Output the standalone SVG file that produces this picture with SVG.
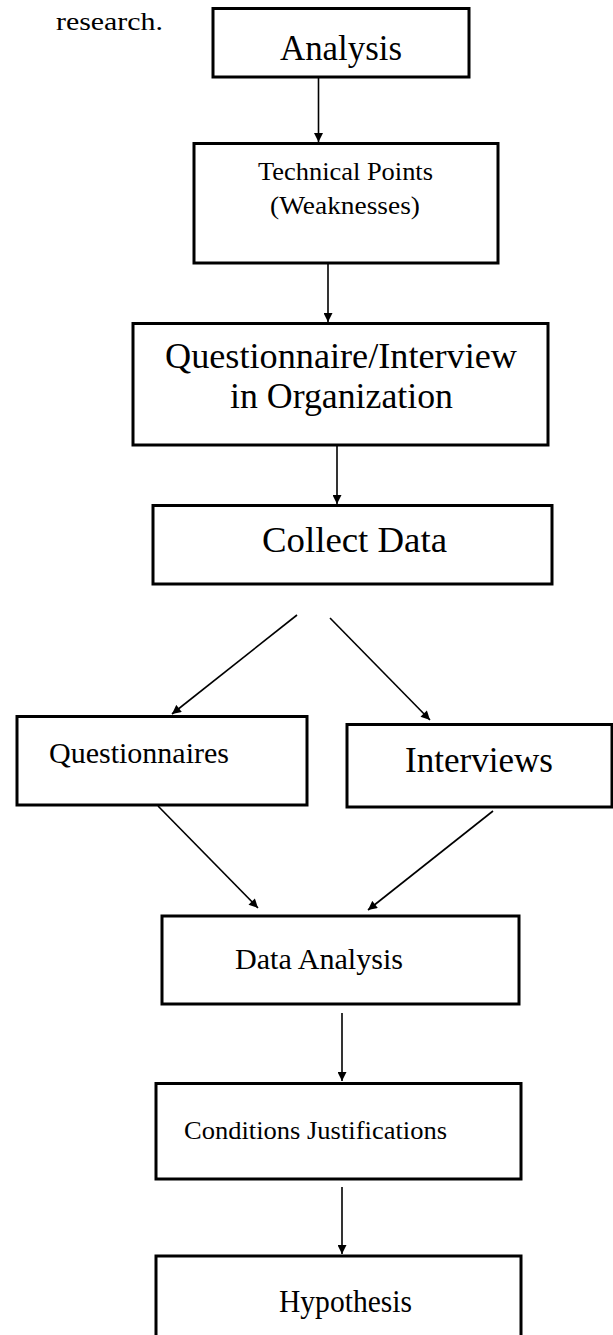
<svg xmlns="http://www.w3.org/2000/svg" width="613" height="1335" viewBox="0 0 613 1335">
<style>
.box{fill:#fff;stroke:#000;stroke-width:3}
.t{font-family:"Liberation Serif","Times New Roman",serif;fill:#000}
.c{stroke:#000;stroke-width:1.6;fill:none;marker-end:url(#ah)}
</style>
<defs>
<marker id="ah" viewBox="0 0 10 10" refX="10" refY="5" markerWidth="10" markerHeight="9" markerUnits="userSpaceOnUse" orient="auto">
<path d="M0,0 L10,5 L0,10 z" fill="#000"/>
</marker>
</defs>
<rect width="613" height="1335" fill="#fff"/>
<text class="t" x="56" y="29.5" font-size="25" textLength="107" lengthAdjust="spacingAndGlyphs">research.</text>
<g id="n-analysis">
<rect class="box" x="213" y="8.5" width="256" height="68.5"/>
<text class="t" x="280" y="60" font-size="36" textLength="122" lengthAdjust="spacingAndGlyphs">Analysis</text>
</g>
<g id="n-technical">
<rect class="box" x="194" y="143.5" width="304" height="119.5"/>
<text class="t" x="258" y="180" font-size="26" textLength="175" lengthAdjust="spacingAndGlyphs">Technical Points</text>
<text class="t" x="270" y="214" font-size="26" textLength="150" lengthAdjust="spacingAndGlyphs">(Weaknesses)</text>
</g>
<g id="n-qi">
<rect class="box" x="133" y="323.5" width="415" height="121.5"/>
<text class="t" x="165" y="368" font-size="36" textLength="352" lengthAdjust="spacingAndGlyphs">Questionnaire/Interview</text>
<text class="t" x="230" y="408" font-size="36" textLength="223" lengthAdjust="spacingAndGlyphs">in Organization</text>
</g>
<g id="n-collect">
<rect class="box" x="153" y="505.5" width="399" height="78.5"/>
<text class="t" x="262" y="552" font-size="36" textLength="185" lengthAdjust="spacingAndGlyphs">Collect Data</text>
</g>
<g id="n-questionnaires">
<rect class="box" x="17" y="716.5" width="290" height="88.5"/>
<text class="t" x="49" y="763" font-size="30" textLength="180" lengthAdjust="spacingAndGlyphs">Questionnaires</text>
</g>
<g id="n-interviews">
<rect class="box" x="347" y="724.5" width="265" height="82.5"/>
<text class="t" x="405" y="772" font-size="35" textLength="148" lengthAdjust="spacingAndGlyphs">Interviews</text>
</g>
<g id="n-dataanalysis">
<rect class="box" x="162" y="916" width="357" height="88"/>
<text class="t" x="235" y="969" font-size="30" textLength="168" lengthAdjust="spacingAndGlyphs">Data Analysis</text>
</g>
<g id="n-conditions">
<rect class="box" x="156" y="1083.5" width="365" height="95.5"/>
<text class="t" x="184" y="1139" font-size="26" textLength="263" lengthAdjust="spacingAndGlyphs">Conditions Justifications</text>
</g>
<g id="n-hypothesis">
<rect class="box" x="156" y="1256" width="365" height="90"/>
<text class="t" x="279" y="1312" font-size="31" textLength="133" lengthAdjust="spacingAndGlyphs">Hypothesis</text>
</g>
<g id="connectors">
<line class="c" x1="318.5" y1="78" x2="318.5" y2="142"/>
<line class="c" x1="328" y1="264" x2="328" y2="322"/>
<line class="c" x1="337" y1="446" x2="337" y2="504"/>
<line class="c" x1="297" y1="615" x2="172" y2="714"/>
<line class="c" x1="330" y1="618" x2="430" y2="720"/>
<line class="c" x1="158" y1="806" x2="258" y2="908"/>
<line class="c" x1="493" y1="811" x2="368" y2="910"/>
<line class="c" x1="342" y1="1013" x2="342" y2="1081"/>
<line class="c" x1="342" y1="1187" x2="342" y2="1254"/>
</g>
</svg>
